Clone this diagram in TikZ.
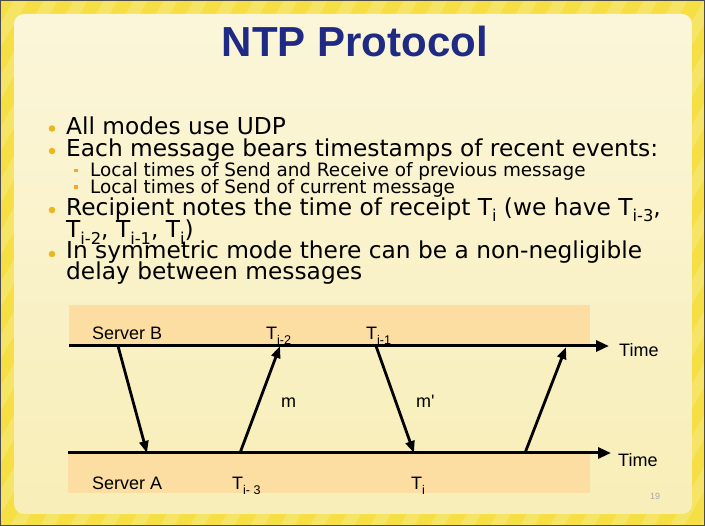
\documentclass[tikz,border=0pt]{standalone}
\usepackage{fontspec}
\setmainfont{DejaVu Sans}
\newfontfamily\arialf{Liberation Sans}
\usetikzlibrary{arrows.meta}
\definecolor{frameY}{HTML}{F5DF45}
\definecolor{panelTop}{HTML}{FBF6DA}
\definecolor{panelBot}{HTML}{F8EEB8}
\definecolor{titleblue}{HTML}{1F2A85}
\definecolor{bulletY}{HTML}{EDB61A}
\definecolor{subB}{HTML}{F0A830}
\definecolor{bandO}{HTML}{FCDDA2}
\makeatletter
\newcommand\sbx[1]{{\check@mathfonts\raisebox{-0.27em}{\fontsize\sf@size\z@\selectfont #1}}}
\makeatother
\tikzset{
  bodytxt/.style={anchor=base west, inner sep=0pt, font=\fontsize{23.3}{27}\selectfont},
  subtxt/.style={anchor=base west, inner sep=0pt, font=\fontsize{18.4}{21}\selectfont},
  dot/.style={circle, fill=bulletY, inner sep=0pt, minimum size=6.5pt},
  sq/.style={rectangle, fill=subB, inner sep=0pt, minimum size=3.2pt},
  lab/.style={anchor=base west, inner sep=0pt, font=\arialf\fontsize{18}{21}\selectfont},
  timeline/.style={line width=3pt, -{Triangle[length=13pt,width=11pt]}},
  msg/.style={line width=2.8pt, -{Triangle[length=12pt,width=9pt]}},
  band/.style={fill=bandO, draw=none}
}
\begin{document}
\begin{tikzpicture}[x=1pt,y=-1pt]
\useasboundingbox (0,0) rectangle (705,526);
% frame
\fill[frameY] (0,0) rectangle (705,526);
\begin{scope}
\clip (0,0) rectangle (705,526);
\foreach \i in {-560,-530,...,720}
  \fill[white,opacity=0.18] (\i,526) -- (\i+14,526) -- (\i+14+304,0) -- (\i+304,0) -- cycle;
\end{scope}
\draw[black!70, line width=1pt] (0.5,0.5) rectangle (704.5,525.5);
% panel
\shade[rounded corners=10pt, top color=panelTop, bottom color=panelBot] (14,14) rectangle (692,514);
% title
\node[font=\arialf\bfseries\fontsize{42}{48}\selectfont, text=titleblue, anchor=base] (title) at (355,57) {NTP Protocol};
% bullets
\node[dot] (d1) at (52,128.5) {};
\node[bodytxt] (t1) at (66,134.5) {All modes use UDP};
\node[dot] (d2) at (52,151) {};
\node[bodytxt] (t2) at (66,157) {Each message bears timestamps of recent events:};
\node[sq] (s1) at (76,170.5) {};
\node[subtxt] (u1) at (90,177) {Local times of Send and Receive of previous message};
\node[sq] (s2) at (76,187) {};
\node[subtxt] (u2) at (90,194) {Local times of Send of current message};
\node[dot] (d3) at (52,210) {};
\node[bodytxt] (t3) at (66,215.5) {Recipient notes the time of receipt T\sbx{i} (we have T\sbx{i-3},};
\node[bodytxt] (t3b) at (66,238) {T\sbx{i-2}, T\sbx{i-1}, T\sbx{i})};
\node[dot] (d4) at (52,254) {};
\node[bodytxt] (t4) at (66,258.5) {In symmetric mode there can be a non-negligible};
\node[bodytxt] (t4b) at (66,279.5) {delay between messages};
% diagram bands
\fill[band] (69,305) rectangle (590,346);
\fill[band] (68,453) rectangle (590,493);
% labels
\node[lab] (sb) at (92,340) {Server B};
\node[lab] (tb1) at (266,340) {T\sbx{i-2}};
\node[lab] (tb2) at (366,340) {T\sbx{i-1}};
\node[lab] (sa) at (92,490) {Server A};
\node[lab] (ta1) at (232,490) {T\sbx{i- 3}};
\node[lab] (ta2) at (411,490) {T\sbx{i}};
\node[lab] (m1) at (281,408) {m};
\node[lab] (m2) at (416,408) {m'};
\node[lab] (time1) at (619,357) {Time};
\node[lab] (time2) at (618,467) {Time};
\node[font=\arialf\fontsize{9}{10}\selectfont, text=black!35, anchor=base west, inner sep=0pt] (pg) at (650,500) {19};
% timelines
\coordinate (bs) at (69,346); \coordinate (be) at (609,346);
\coordinate (as) at (68,453); \coordinate (ae) at (611,453);
\draw[timeline] (bs) -- (be);
\draw[timeline] (as) -- (ae);
% messages
\coordinate (p1) at (118,346); \coordinate (q1) at (147,453);
\coordinate (p2) at (240,453); \coordinate (q2) at (280,346);
\coordinate (p3) at (376,346); \coordinate (q3) at (414,453);
\coordinate (p4) at (525,453); \coordinate (q4) at (566,347);
\draw[msg] (p1) -- (q1);
\draw[msg] (p2) -- (q2);
\draw[msg] (p3) -- (q3);
\draw[msg] (p4) -- (q4);
\end{tikzpicture}
\end{document}
